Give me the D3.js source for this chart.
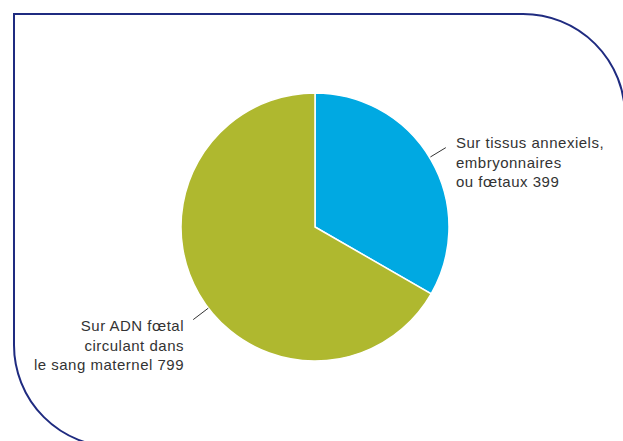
<!DOCTYPE html>
<html>
<head>
<meta charset="utf-8">
<script src="https://cdn.jsdelivr.net/npm/d3@7"></script>
<style>
  html, body { margin: 0; padding: 0; background: #fff; }
  svg { display: block; }
  text { font-family: "Liberation Sans", Arial, sans-serif; font-size: 15px; fill: #333; letter-spacing: 0.5px; }
</style>
</head>
<body>
<svg id="chart" width="623" height="441"></svg>
<script>
const categories = ["Sur tissus annexiels, embryonnaires ou fœtaux", "Sur ADN fœtal circulant dans le sang maternel"];
const values = [399, 799];
const colors = ["#00a9e2", "#afb82f"];
const labelLines = [
  ["Sur tissus annexiels,", "embryonnaires", "ou fœtaux 399"],
  ["Sur ADN fœtal", "circulant dans", "le sang maternel 799"]
];

const svg = d3.select("#chart");

// Frame
svg.append("path")
  .attr("d", "M116,447 A102,102 0 0 1 14,345 V14 H523 A102,102 0 0 1 625,116 V460")
  .attr("fill", "none")
  .attr("stroke", "#1f2b80")
  .attr("stroke-width", 2);

const cx = 315, cy = 227, r = 134;
const g = svg.append("g").attr("transform", `translate(${cx},${cy})`);

const pie = d3.pie().sort(null).value(d => d)(values);
const arc = d3.arc().innerRadius(0).outerRadius(r);

g.selectAll("path.slice").data(pie).enter().append("path")
  .attr("class", "slice")
  .attr("d", arc)
  .attr("fill", (d, i) => colors[i])
  .attr("stroke", "#fff")
  .attr("stroke-width", 1.5);

// Leader lines and labels
const labelCfg = [
  { angleFrac: 0.49, r0: 135, r1: 153, anchor: "start", tx: 456, ty: 148 },
  { angleFrac: 0.47, r0: 134, r1: 153, anchor: "end", tx: 184, ty: 331 }
];

pie.forEach((d, i) => {
  const cfg = labelCfg[i];
  const a = d.startAngle + (d.endAngle - d.startAngle) * cfg.angleFrac;
  const x0 = Math.sin(a) * cfg.r0, y0 = -Math.cos(a) * cfg.r0;
  const x1 = Math.sin(a) * cfg.r1, y1 = -Math.cos(a) * cfg.r1;
  g.append("line")
    .attr("x1", x0).attr("y1", y0)
    .attr("x2", x1).attr("y2", y1)
    .attr("stroke", "#333").attr("stroke-width", 1);
  const t = svg.append("text")
    .attr("text-anchor", cfg.anchor)
    .attr("x", cfg.tx).attr("y", cfg.ty);
  labelLines[i].forEach((ln, j) => {
    t.append("tspan").attr("x", cfg.tx).attr("y", cfg.ty + j * 19.5).text(ln);
  });
});
</script>
</body>
</html>
